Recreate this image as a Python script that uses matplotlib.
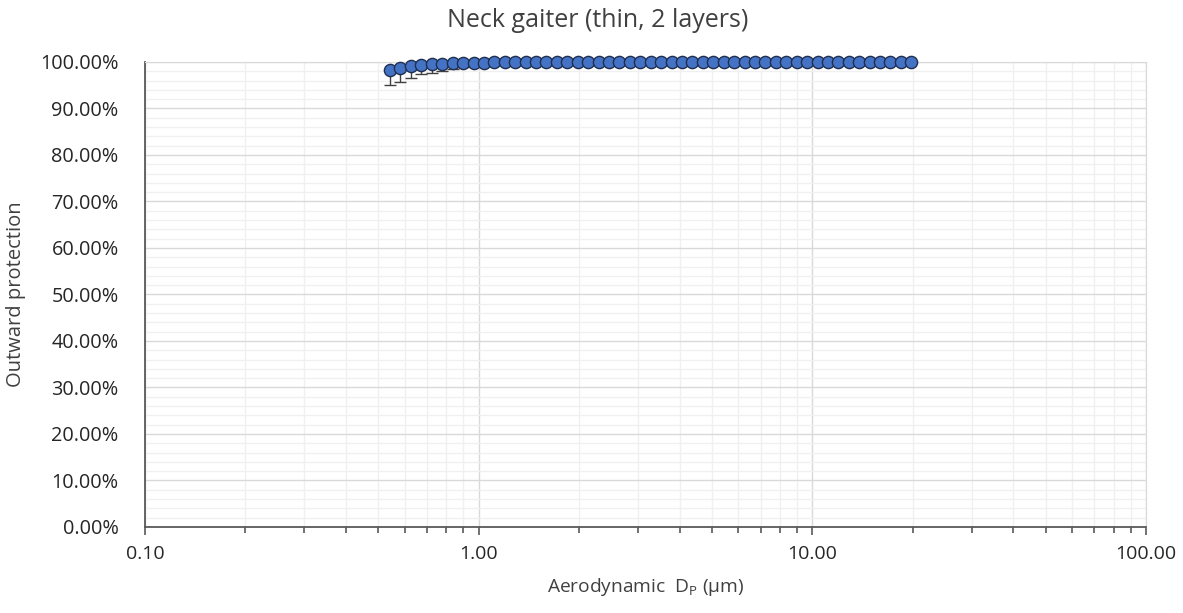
import matplotlib.pyplot as plt
from matplotlib.ticker import FuncFormatter, MultipleLocator, LogLocator, NullFormatter

# APS channel midpoints (um)
dp = [0.542, 0.583, 0.626, 0.673, 0.723, 0.777, 0.835, 0.898, 0.965, 1.037,
      1.114, 1.197, 1.286, 1.382, 1.486, 1.596, 1.715, 1.843, 1.981, 2.129,
      2.288, 2.458, 2.642, 2.839, 3.051, 3.278, 3.523, 3.786, 4.068, 4.371,
      4.698, 5.048, 5.425, 5.829, 6.264, 6.732, 7.234, 7.774, 8.354, 8.977,
      9.647, 10.37, 11.14, 11.97, 12.86, 13.82, 14.86, 15.96, 17.15, 18.43,
      19.81]
# outward protection (fraction)
prot = [0.983, 0.987, 0.991, 0.9935, 0.995, 0.996, 0.997, 0.9975, 0.998, 0.9985,
        0.999, 0.999, 0.999, 0.999, 0.999, 0.999, 0.999, 0.999, 1.0, 1.0,
        1.0, 1.0, 1.0, 1.0, 1.0, 1.0, 1.0, 1.0, 1.0, 1.0,
        1.0, 1.0, 1.0, 1.0, 1.0, 1.0, 1.0, 1.0, 1.0, 1.0,
        1.0, 1.0, 1.0, 1.0, 1.0, 1.0, 1.0, 1.0, 1.0, 1.0,
        1.0]
# lower error (fraction)
err = [0.033, 0.029, 0.025, 0.020, 0.018, 0.016, 0.013, 0.009, 0.006, 0.004,
       0.002, 0.001, 0.001, 0.001, 0.001, 0.001, 0.001, 0.001, 0.0, 0.0,
       0.0, 0.0, 0.0, 0.0, 0.0, 0.0, 0.0, 0.0, 0.0, 0.0,
       0.0, 0.0, 0.0, 0.0, 0.0, 0.0, 0.0, 0.0, 0.0, 0.0,
       0.0, 0.0, 0.0, 0.0, 0.0, 0.0, 0.0, 0.0, 0.0, 0.0,
       0.0]

plt.rcParams['font.family'] = ['Open Sans', 'DejaVu Sans']
txt = '#404040'

fig = plt.figure(figsize=(11.83, 6.13), dpi=100)
ax = fig.add_axes([0.1226, 0.1403, 0.8461, 0.7586])

ax.errorbar(dp, prot, yerr=[err, [0] * len(err)], fmt='none', ecolor='#404040',
            elinewidth=1, capsize=4, capthick=1, zorder=2)
ax.plot(dp, prot, 'o', ms=8.8, mfc='#4472C4', mec='#1f2f4f', mew=1.0, zorder=3,
        clip_on=False)

ax.set_xscale('log')
ax.set_xlim(0.1, 100)
ax.set_ylim(0, 1)
ax.xaxis.set_major_locator(LogLocator(base=10))
ax.xaxis.set_minor_locator(LogLocator(base=10, subs=range(2, 10)))
ax.xaxis.set_minor_formatter(NullFormatter())
ax.xaxis.set_major_formatter(FuncFormatter(lambda v, p: '%.2f' % v))
ax.yaxis.set_major_locator(MultipleLocator(0.1))
ax.yaxis.set_minor_locator(MultipleLocator(0.02))
ax.yaxis.set_major_formatter(FuncFormatter(lambda v, p: '%.2f%%' % (v * 100)))

ax.grid(which='major', color='#d9d9d9', lw=1, zorder=0)
ax.grid(which='minor', color='#f0f0f0', lw=1, zorder=0)
ax.set_axisbelow(True)

for s in ['top', 'right']:
    ax.spines[s].set_color('#d9d9d9')
for s in ['left', 'bottom']:
    ax.spines[s].set_color('#595959')
    ax.spines[s].set_linewidth(1.3)

ax.tick_params(axis='y', which='both', length=0, labelsize=14.3, labelcolor='#262626', pad=19)
ax.tick_params(axis='x', which='major', length=6, width=1.2, color='#595959',
               labelsize=14, labelcolor='#262626', pad=7)
ax.tick_params(axis='x', which='minor', length=4, width=1.2, color='#595959')

ax.set_xlabel(r'Aerodynamic  D$_\mathregular{P}$ (µm)', fontsize=13.8, color=txt, labelpad=9)
ax.set_ylabel('Outward protection', fontsize=14.5, color=txt, labelpad=10)
fig.text(0.505, 0.967, 'Neck gaiter (thin, 2 layers)', ha='center', va='center',
         fontsize=18, color=txt)

fig.savefig('out.png', dpi=100)
